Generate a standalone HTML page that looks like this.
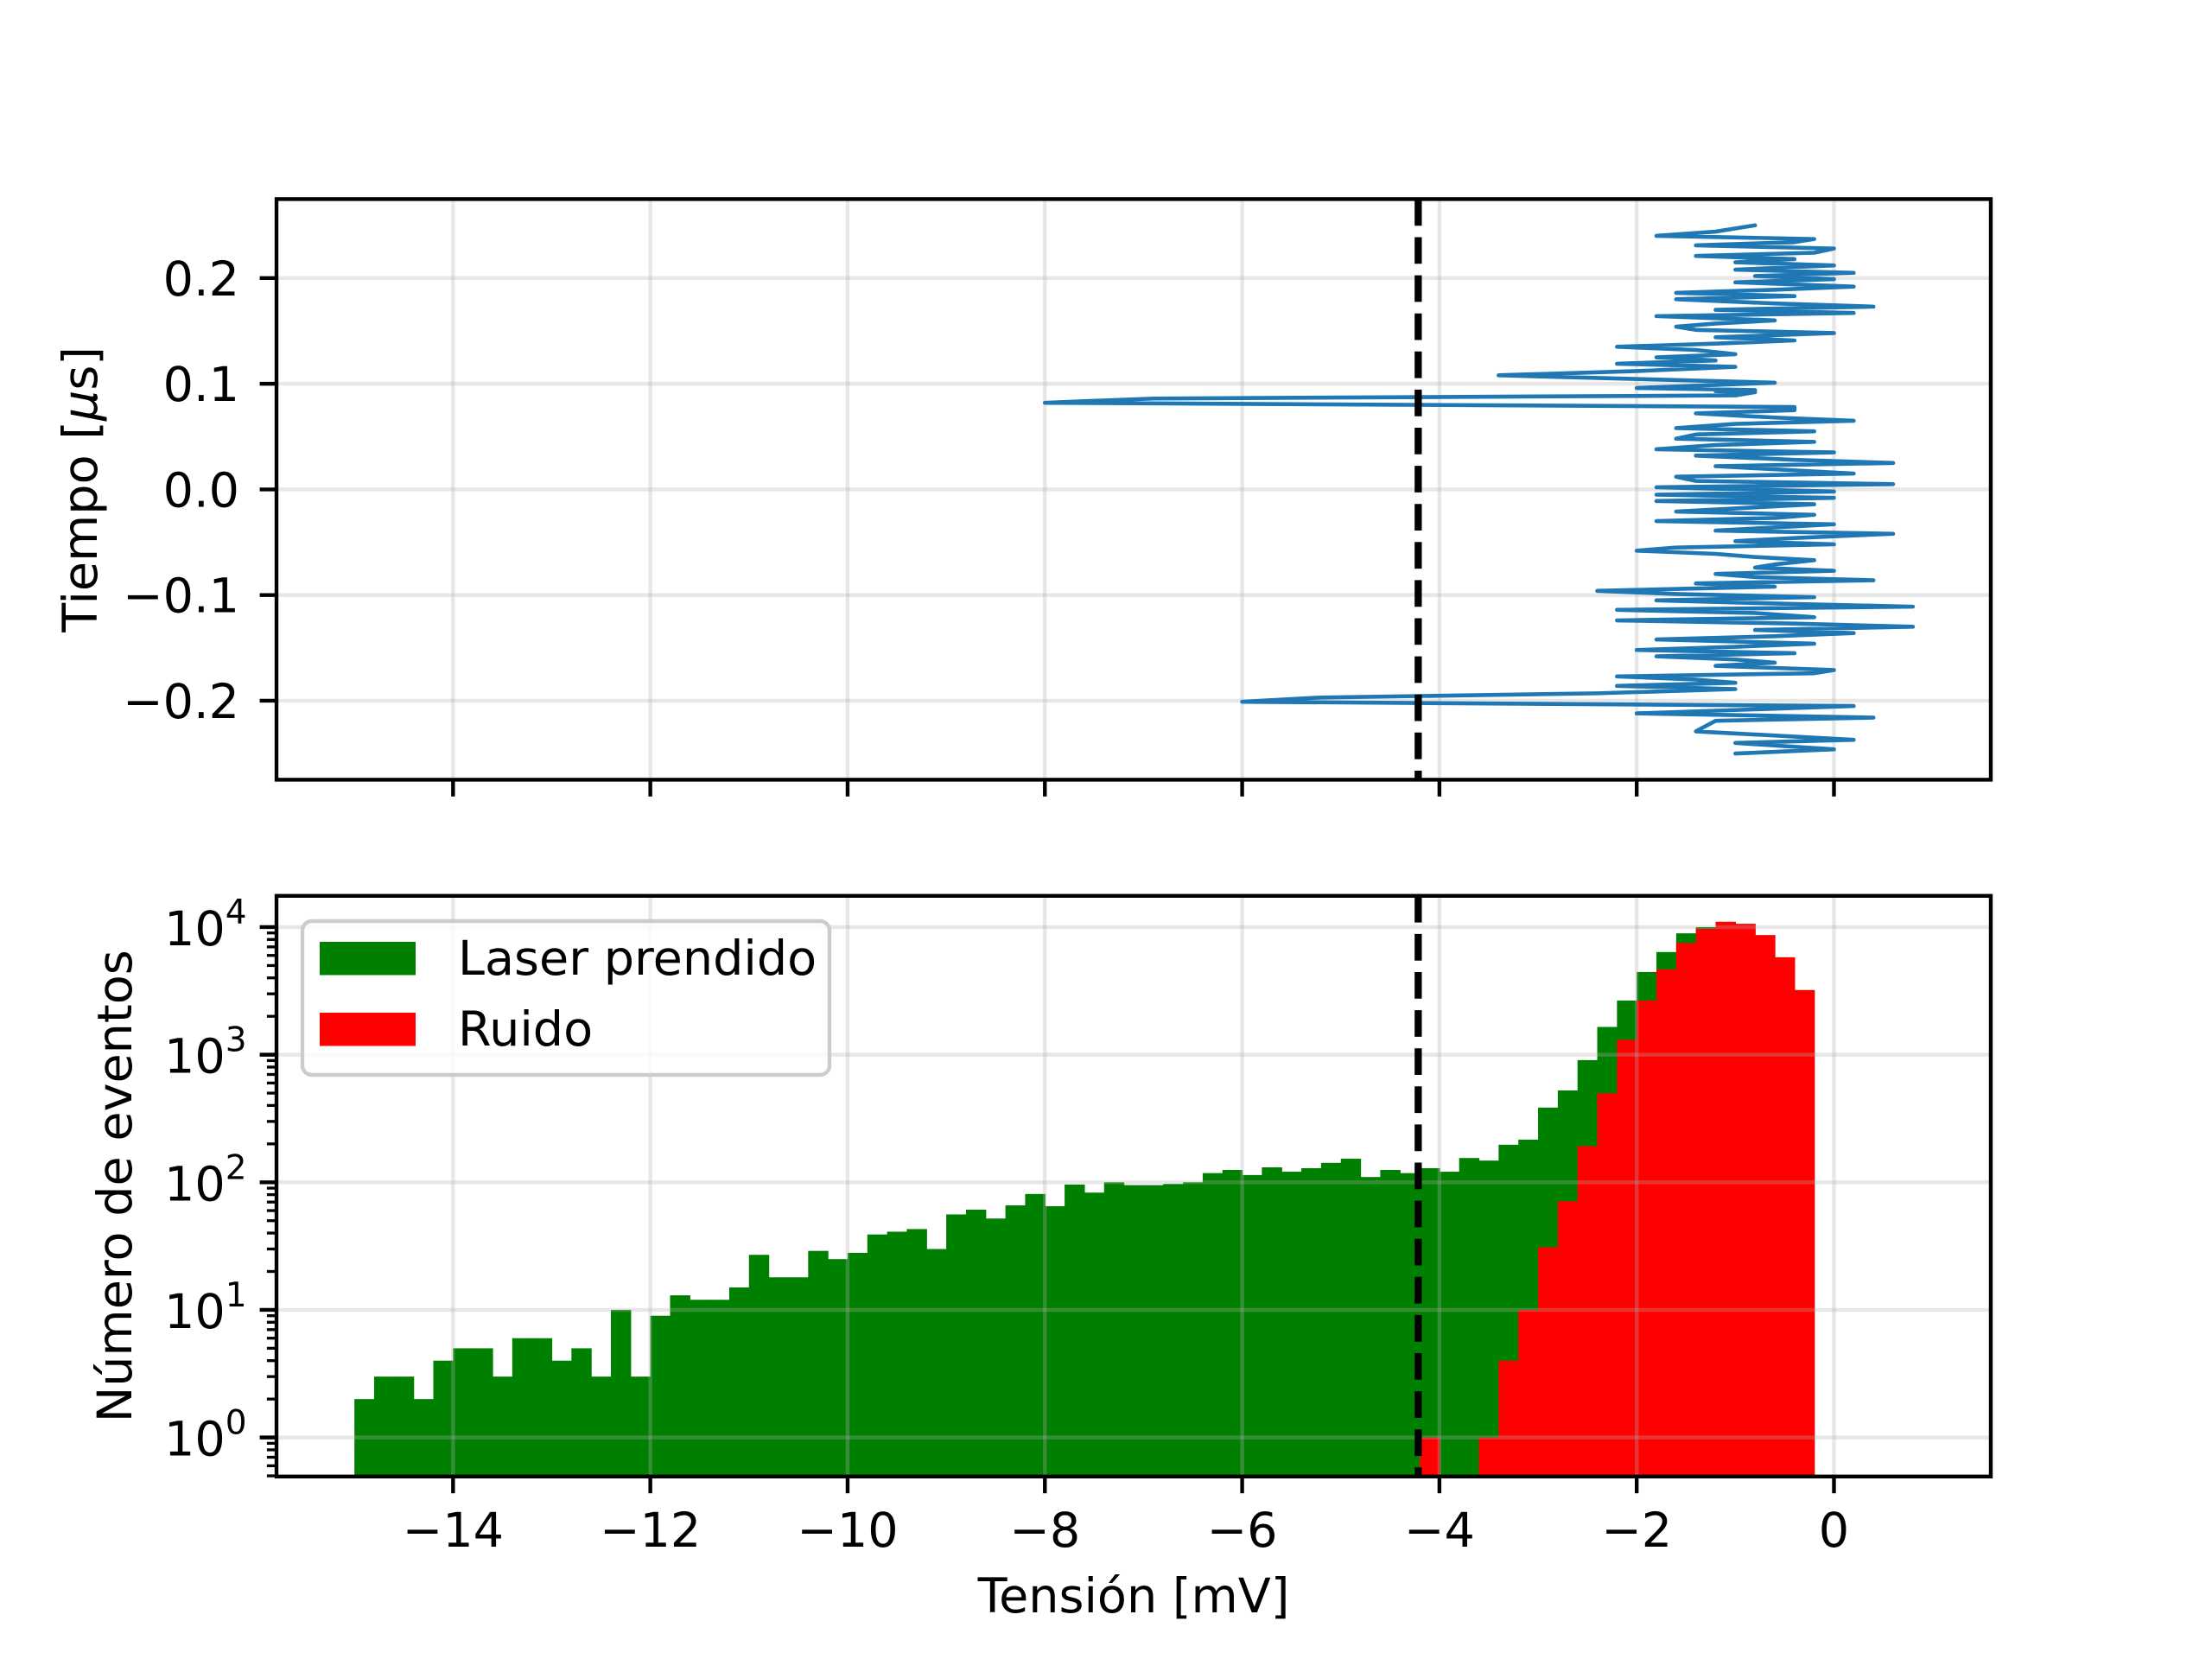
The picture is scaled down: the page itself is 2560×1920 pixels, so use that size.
<!DOCTYPE html>
<html><head><meta charset="utf-8"><style>
html,body{margin:0;padding:0;background:#fff;}
svg{display:block;}
text{font-family:"DejaVu Sans","Liberation Sans",sans-serif;fill:#000;}
</style></head><body>
<svg id="fig" xmlns="http://www.w3.org/2000/svg" width="2560" height="1920" viewBox="0 0 2560 1920">
<rect x="0" y="0" width="2560" height="1920" fill="#fff"/>
<defs>
<clipPath id="clipTop"><rect x="320" y="230.4" width="1984" height="672"/></clipPath>
<clipPath id="clipBot"><rect x="320" y="1036.8" width="1984" height="672"/></clipPath>
</defs>
<g id="top"></g>
<g id="bot"></g>
</svg>
<script>
// ---- data ----
const binStart = -15;
const binWidth = 0.2;
const laserCounts = [2,3,3,2,4,5,5,3,6,6,4,5,3,10,3,9,13,12,12,15,27,18,18,29,25,28,39,41,43,30,56,61,52,66,81,65,96,83,100,95,95,97,100,118,125,114,131,121,129,142,153,110,125,118,129,121,155,148,197,216,385,525,907,1650,2660,4450,6380,8940,10000,11000,10600,8650,5800,3210];
const noiseCounts = [0,0,0,0,0,0,0,0,0,0,0,0,0,0,0,0,0,0,0,0,0,0,0,0,0,0,0,0,0,0,0,0,0,0,0,0,0,0,0,0,0,0,0,0,0,0,0,0,0,0,0,0,0,0,1,0,0,1,4,10,31,71,192,498,1310,2660,4670,7500,9690,11000,10600,8650,5800,3210];
const thresholdMv = -4.215;
const traceTime = [0.250,0.247,0.244,0.240,0.237,0.234,0.231,0.228,0.224,0.221,0.218,0.215,0.212,0.208,0.205,0.202,0.199,0.196,0.192,0.189,0.186,0.183,0.180,0.176,0.173,0.170,0.167,0.164,0.160,0.157,0.154,0.151,0.148,0.144,0.141,0.138,0.135,0.132,0.128,0.125,0.122,0.119,0.116,0.112,
0.108,0.101,0.096,0.094,0.093,0.092,0.089,0.086,0.082,0.078,
0.075,0.072,0.068,0.065,0.062,0.058,0.055,0.052,0.048,0.045,0.042,0.038,0.035,0.032,0.028,0.025,0.022,0.018,0.015,0.012,0.008,0.005,0.002,-0.002,-0.005,
-0.008,-0.011,-0.014,-0.017,-0.021,-0.024,-0.027,-0.030,-0.033,-0.036,-0.039,-0.042,-0.046,-0.049,-0.052,-0.055,-0.058,-0.061,-0.064,-0.067,-0.071,-0.074,-0.077,-0.080,-0.083,-0.086,-0.089,-0.092,-0.096,-0.099,-0.102,-0.105,-0.108,-0.111,-0.114,-0.117,-0.121,-0.124,-0.127,-0.130,-0.133,-0.136,-0.139,-0.142,-0.146,-0.149,-0.152,-0.155,-0.158,-0.161,-0.164,-0.167,-0.171,-0.174,-0.177,-0.180,-0.183,
-0.186,-0.189,-0.193,-0.197,-0.199,-0.201,-0.205,-0.212,-0.216,-0.219,-0.229,-0.237,-0.240,-0.246,-0.250];
const traceVolt = [-0.8,-1.0,-1.2,-1.8,-0.2,-0.4,-1.4,0,-0.2,-1.4,-0.4,-1.0,0,-1.0,0.2,-0.8,0,-1.0,0.2,-0.6,-1.6,-0.4,-1.6,-0.6,0.4,-1.2,0.2,-1.8,-0.6,-1.2,-1.6,-1.4,0,-1.2,-0.4,-1.2,-2.2,-1.4,-1.0,-1.8,-1.2,-2.2,-1.0,-2.0,
-3.4,-0.6,-2.0,-0.8,-1.2,-0.8,-1.0,-6.9,-8.0,-0.4,
-0.4,-1.4,-0.6,0.2,-1.0,-1.6,-0.2,-1.4,-1.6,-0.2,-1.2,-1.8,0,-1.4,-0.4,0.6,-1.2,-0.4,0.2,-1.6,-1.4,0.6,-1.8,0,-1.8,
0,-1.8,-0.2,-0.8,-1.6,-0.2,-0.6,-1.8,0,-0.6,-1.2,0.6,-0.4,-1.0,0,-1.6,-2.0,-1.2,-0.8,-0.2,-0.6,-0.8,0,-1.2,-0.8,0.4,-1.4,-0.6,-2.4,-1.6,-0.2,-1.8,-0.6,0.8,-2.2,-0.8,-0.2,-2.2,-0.4,0.8,-0.8,0.2,-0.6,-1.8,-0.2,-1.0,-2.0,-0.4,-1.8,-1.0,-0.6,-1.2,0,-0.2,-2.2,-1.4,-1.0,
-2.2,-1.0,-2.4,-5.2,-5.6,-6.0,0.2,-2.0,0.4,-1.2,-1.4,0.2,-1.0,0,-1.0];
const xTicks = [-14,-12,-10,-8,-6,-4,-2,0];
const xTickLabels = ["\u221214","\u221212","\u221210","\u22128","\u22126","\u22124","\u22122","0"];
const tTicks = [0.2,0.1,0,-0.1,-0.2];
const tTickLabels = ["0.2","0.1","0.0","\u22120.1","\u22120.2"];
const logTicks = [0,1,2,3,4];

// ---- geometry ----
const NS = "http://www.w3.org/2000/svg";
const L = 320, R = 2304;
const topT = 230.4, topB = 902.4, botT = 1036.8, botB = 1708.8;
const xmin = -15.79, xmax = 1.59;
const tmin = -0.2748, tmax = 0.2748;
const lmin = -0.306, lmax = 4.245;
const X = v => L + (v - xmin) / (xmax - xmin) * (R - L);
const YT = t => topB - (t - tmin) / (tmax - tmin) * (topB - topT);
const YL = c => botB - (Math.log10(c) - lmin) / (lmax - lmin) * (botB - botT);

function el(tag, attrs, parent) {
  const e = document.createElementNS(NS, tag);
  for (const k in attrs) e.setAttribute(k, attrs[k]);
  parent.appendChild(e);
  return e;
}
const gTop = document.getElementById('top');
const gBot = document.getElementById('bot');
const gridStroke = "rgba(176,176,176,0.3)";

// ===== top panel =====
for (const v of xTicks) {
  const g = el('line', {x1: X(v), x2: X(v), y1: topT, y2: topB, stroke: gridStroke, 'stroke-width': 4.4}, gTop);
  
  
}
tTicks.forEach((t, i) => {
  const g = el('line', {x1: L, x2: R, y1: YT(t), y2: YT(t), stroke: gridStroke, 'stroke-width': 4.4}, gTop);
  
  
  const tk = el('line', {x1: L - 19.4, x2: L, y1: YT(t), y2: YT(t), stroke: '#000', 'stroke-width': 4.4}, gTop);
  
  
  const tx = el('text', {x: 277, y: YT(t) + 20, 'font-size': 55.6, 'text-anchor': 'end'}, gTop);
  tx.textContent = tTickLabels[i];
  
  
});
let pts = traceVolt.map((v, i) => X(v).toFixed(2) + ',' + YT(traceTime[i]).toFixed(2)).join(' ');
const trace = el('polyline', {points: pts, fill: 'none', stroke: '#1f77b4', 'stroke-width': 4.6, 'stroke-linejoin': 'round', 'stroke-linecap': 'round', 'clip-path': 'url(#clipTop)'}, gTop);


const th1 = el('line', {x1: X(thresholdMv), x2: X(thresholdMv), y1: topT, y2: topB, stroke: '#000', 'stroke-width': 8.3, 'stroke-dasharray': '30.8 13.3'}, gTop);


for (const v of xTicks) {
  const tk = el('line', {x1: X(v), x2: X(v), y1: topB, y2: topB + 19.4, stroke: '#000', 'stroke-width': 4.4}, gTop);
  
  
}
const sp1 = el('rect', {x: L, y: topT, width: R - L, height: topB - topT, fill: 'none', stroke: '#000', 'stroke-width': 4.4}, gTop);


const yl1 = el('text', {x: 0, y: 0, 'font-size': 55.6, 'text-anchor': 'middle', transform: 'translate(112,566.4) rotate(-90)'}, gTop);
yl1.innerHTML = 'Tiempo [<tspan font-style="italic">\u03bc</tspan>s]';



// ===== bottom panel =====
const gBars = el('g', {'clip-path': 'url(#clipBot)'}, gBot);


laserCounts.forEach((c, i) => {
  if (c <= 0) return;
  const x0 = X(binStart + i * binWidth), x1 = X(binStart + (i + 1) * binWidth);
  const r = el('rect', {x: x0, y: YL(c), width: x1 - x0 + 0.6, height: botB + 10 - YL(c), fill: '#008000'}, gBars);
  
  
});
noiseCounts.forEach((c, i) => {
  if (c <= 0) return;
  const x0 = X(binStart + i * binWidth), x1 = X(binStart + (i + 1) * binWidth);
  const r = el('rect', {x: x0, y: YL(c), width: x1 - x0 + 0.6, height: botB + 10 - YL(c), fill: '#ff0000'}, gBars);
  
  
});
for (const v of xTicks) {
  const g = el('line', {x1: X(v), x2: X(v), y1: botT, y2: botB, stroke: gridStroke, 'stroke-width': 4.4}, gBot);
  
  
}
for (const p of logTicks) {
  const y = YL(Math.pow(10, p));
  const g = el('line', {x1: L, x2: R, y1: y, y2: y, stroke: gridStroke, 'stroke-width': 4.4}, gBot);
  
  
}
const th2 = el('line', {x1: X(thresholdMv), x2: X(thresholdMv), y1: botT, y2: botB, stroke: '#000', 'stroke-width': 8.3, 'stroke-dasharray': '30.8 13.3'}, gBot);


// log ticks
for (const p of logTicks) {
  const y = YL(Math.pow(10, p));
  const tk = el('line', {x1: L - 19.4, x2: L, y1: y, y2: y, stroke: '#000', 'stroke-width': 4.4}, gBot);
  
  
  const tx = el('text', {x: 190, y: y + 21, 'font-size': 55.6}, gBot);
  tx.innerHTML = '10<tspan font-size="39" dy="-25">' + p + '</tspan>';
  
  
}
for (let p = -1; p <= 4; p++) {
  for (let k = 2; k <= 9; k++) {
    const lv = p + Math.log10(k);
    if (lv < lmin || lv > lmax) continue;
    const y = YL(Math.pow(10, lv));
    const tk = el('line', {x1: L - 11.1, x2: L, y1: y, y2: y, stroke: '#000', 'stroke-width': 3.3}, gBot);
    
    
  }
}
xTicks.forEach((v, i) => {
  const tk = el('line', {x1: X(v), x2: X(v), y1: botB, y2: botB + 19.4, stroke: '#000', 'stroke-width': 4.4}, gBot);
  
  
  const tx = el('text', {x: X(v), y: 1790, 'font-size': 55.6, 'text-anchor': 'middle'}, gBot);
  tx.textContent = xTickLabels[i];
  
  
});
const sp2 = el('rect', {x: L, y: botT, width: R - L, height: botB - botT, fill: 'none', stroke: '#000', 'stroke-width': 4.4}, gBot);


const xl = el('text', {x: 1312, y: 1866, 'font-size': 55.6, 'text-anchor': 'middle'}, gBot);
xl.textContent = 'Tensión [mV]';


const yl2 = el('text', {x: 0, y: 0, 'font-size': 55.6, 'text-anchor': 'middle', transform: 'translate(152,1372.8) rotate(-90)'}, gBot);
yl2.textContent = 'Número de eventos';



// legend
const lg = el('g', {}, gBot);


const lbox = el('rect', {x: 350, y: 1066, width: 610, height: 178, rx: 11, ry: 11, fill: 'rgba(255,255,255,0.8)', stroke: '#cccccc', 'stroke-width': 4.4}, lg);


const p1 = el('rect', {x: 370, y: 1090, width: 111, height: 38.5, fill: '#008000'}, lg);


const t1 = el('text', {x: 530, y: 1128, 'font-size': 55.6}, lg);
t1.textContent = 'Laser prendido';


const p2 = el('rect', {x: 370, y: 1172, width: 111, height: 38.5, fill: '#ff0000'}, lg);


const t2 = el('text', {x: 530, y: 1210, 'font-size': 55.6}, lg);
t2.textContent = 'Ruido';


</script>
</body></html>
